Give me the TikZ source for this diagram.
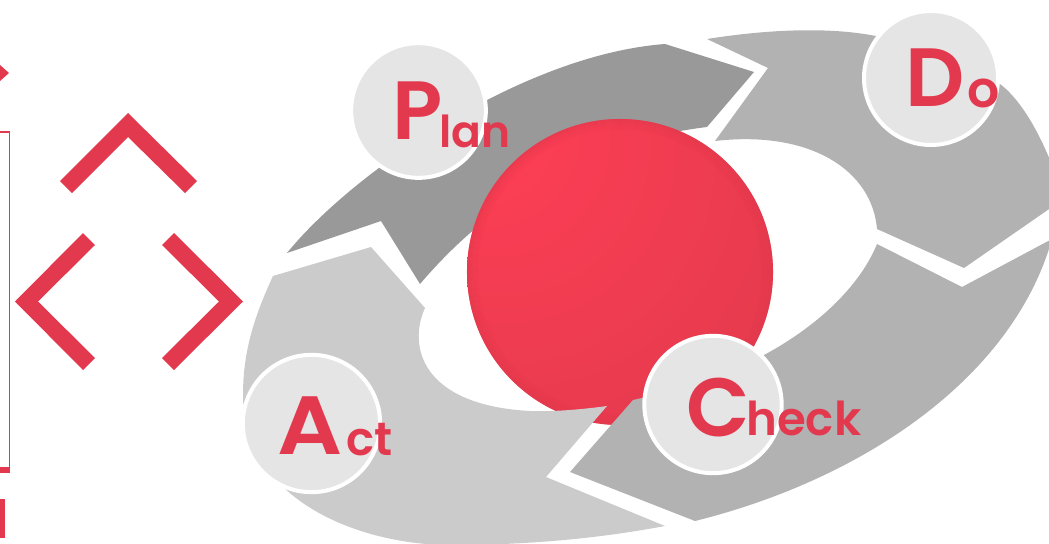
\documentclass[tikz,border=0pt]{standalone}
\usepackage{fontspec}
\setmainfont{Poppins SemiBold}
\definecolor{brand}{HTML}{E3394F}
\definecolor{planGray}{HTML}{999999}
\definecolor{midGray}{HTML}{B2B2B2}
\definecolor{actGray}{HTML}{CBCBCB}
\definecolor{badge}{HTML}{E5E5E5}
\definecolor{rimRed}{HTML}{E2394D}
\definecolor{ballA}{HTML}{FE3E55}
\definecolor{ballB}{HTML}{FB3E54}
\definecolor{ballC}{HTML}{EE3C50}
\definecolor{ballD}{HTML}{E0394C}
\pgfdeclareradialshading{ballshade}{\pgfpoint{-26bp}{27bp}}{%
  color(0bp)=(ballA);
  color(10bp)=(ballB);
  color(32bp)=(ballC);
  color(56bp)=(ballD);
  color(100bp)=(ballD)}
\tikzset{
  x=0.75pt,y=-0.75pt,
  chevron/.style={fill=brand},
  badgecircle/.style={circle,fill=badge,draw=white,line width=3pt,minimum size=100.5pt,inner sep=0pt},
  bigbadge/.style={badgecircle,minimum size=103pt},
  bigletter/.style={anchor=base west,inner sep=0pt,text=brand,font=\fontsize{62pt}{62pt}\selectfont},
  smallletters/.style={anchor=base west,inner sep=0pt,text=brand,font=\fontsize{35pt}{35pt}\selectfont},
}
\begin{document}
\begin{tikzpicture}
\useasboundingbox (0,0) rectangle (1049,543);
\clip (0,0) rectangle (1049,543);
% left marks
\fill[chevron] (0,65) -- (9,73) -- (0,81) -- cycle;
\fill[chevron] (0,131) rectangle (10,132.5);
\fill[chevron] (8.5,131) rectangle (10,473);
\fill[chevron] (0,467) rectangle (10,473);
\fill[chevron] (0,499) rectangle (5,538);
\fill[chevron] (60,181) -- (128,113) -- (197,181) -- (185,193) -- (128,137) -- (72,193) -- cycle;
\fill[chevron] (83,233) -- (15,301.5) -- (83,370) -- (95,358) -- (38,301.5) -- (95,245) -- cycle;
\fill[chevron] (174,233) -- (243,301.5) -- (174,370) -- (162,358) -- (219,301.5) -- (162,245) -- cycle;
% Plan arrow
\fill[planGray] (287,253) .. controls (350,175) and (520,55) .. (665,44)
  -- (754,72) -- (707,127)
  .. controls (600,140) and (500,190) .. (420,284)
  -- (381,221) -- cycle;
% Do arrow
\fill[midGray] (707,39) .. controls (770,29) and (830,27) .. (876,36)
  .. controls (931,47) and (975,62) .. (1006,89)
  .. controls (1025,107) and (1040,135) .. (1052,165)
  -- (1052,207) -- (964,268) -- (877,229)
  .. controls (872,170) and (810,130) .. (715,141)
  -- (768,68) -- cycle;
% central ball
\shade[shading=ballshade] (620,272) circle[radius=114.75pt];
\foreach \r/\o in {142.5/0.04,143.5/0.07,144.5/0.1,145.5/0.14,146.5/0.18,147.5/0.23,148.5/0.29,149.5/0.36,150.5/0.45,151.5/0.55,152.5/0.65}
  \draw[rimRed,opacity=\o,line width=0.8pt] (620,272) circle[radius=\r*0.75pt];
% Check arrow
\fill[midGray] (877,244) -- (962,287) -- (1052,239)
  .. controls (1012,380) and (860,480) .. (695,521)
  -- (570,472) -- (633,400) -- (642,398)
  .. controls (760,375) and (850,310) .. (877,244) -- cycle;
% Act arrow
\fill[actGray] (273,276) -- (371,247) -- (425,308)
  .. controls (408,345) and (420,405) .. (530,411)
  .. controls (555,412) and (585,409) .. (607,406)
  -- (546,477) -- (665,526)
  .. controls (590,540) and (520,545) .. (450,545)
  .. controls (360,545) and (243,500) .. (243,395)
  .. controls (243,350) and (255,315) .. (273,276) -- cycle;
% badges
\node[badgecircle,minimum size=101pt] (planBadge) at (418.5,110.5) {};
\node[badgecircle] (doBadge) at (931,78) {};
\node[bigbadge] (actBadge) at (311.5,423.5) {};
\node[bigbadge] (checkBadge) at (713,404.5) {};
% labels
\node[bigletter] (planP) at (392,139) {P};
\node[smallletters,font=\fontsize{33pt}{33pt}\selectfont] (planRest) at (439,147) {lan};
\node[bigletter] (doD) at (905,106) {D};
\node[smallletters,font=\fontsize{38pt}{38pt}\selectfont] (doRest) at (967,107.5) {o};
\node[bigletter,xscale=1.1] (actA) at (277,454) {A};
\node[smallletters] (actRest) at (346,455) {ct};
\node[bigletter] (checkC) at (686,436) {C};
\node[smallletters] (checkRest) at (746,435) {heck};
\end{tikzpicture}
\end{document}
